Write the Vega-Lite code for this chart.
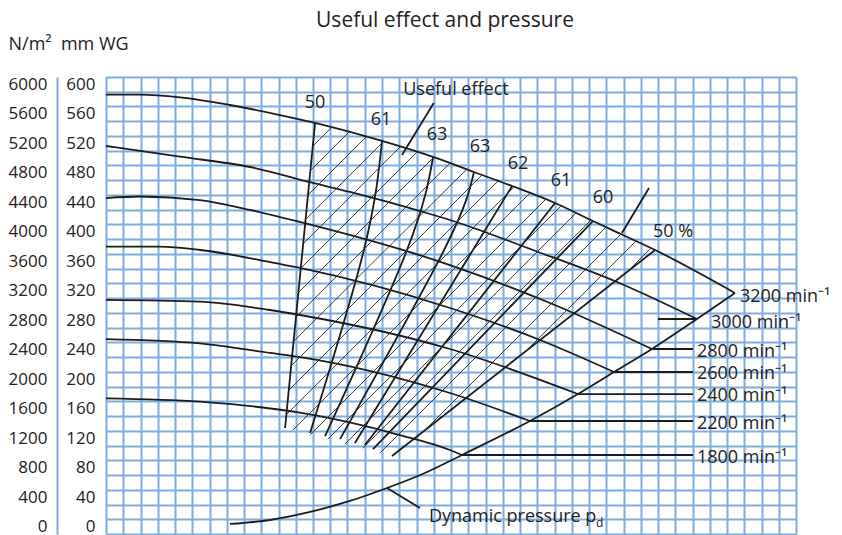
{
  "$schema": "https://vega.github.io/schema/vega-lite/v6.json",
  "width": 690,
  "height": 457,
  "autosize": "none",
  "padding": {"left": 106, "top": 77, "right": 46, "bottom": 1},
  "title": {"text": "Useful effect and pressure", "frame": "group", "anchor": "middle", "dx": -6, "offset": 4, "fontSize": 21, "fontWeight": "normal", "color": "#222222", "font": "Open Sans"},
  "config": {"view": {"stroke": null}, "font": "Open Sans"},
  "datasets": {
    "curves": [
      {"s": "3200", "x": 0, "y": 588.2}, {"s": "3200", "x": 1.97, "y": 588.2}, {"s": "3200", "x": 4.29, "y": 584.5}, {"s": "3200", "x": 7.19, "y": 574.0}, {"s": "3200", "x": 10.09, "y": 560.4}, {"s": "3200", "x": 12.12, "y": 549.6}, {"s": "3200", "x": 16.0, "y": 525.2}, {"s": "3200", "x": 18.96, "y": 503.5}, {"s": "3200", "x": 21.33, "y": 483.1}, {"s": "3200", "x": 23.54, "y": 464.1}, {"s": "3200", "x": 26.03, "y": 441.1}, {"s": "3200", "x": 28.23, "y": 416.6}, {"s": "3200", "x": 29.97, "y": 397.6}, {"s": "3200", "x": 31.83, "y": 377.3}, {"s": "3200", "x": 36.46, "y": 319.0},
      {"s": "3000", "x": 0, "y": 518.4}, {"s": "3000", "x": 4.29, "y": 503.9}, {"s": "3000", "x": 8.35, "y": 489.9}, {"s": "3000", "x": 12.0, "y": 468.2}, {"s": "3000", "x": 14.14, "y": 456.0}, {"s": "3000", "x": 18.38, "y": 428.9}, {"s": "3000", "x": 19.94, "y": 418.0}, {"s": "3000", "x": 24.75, "y": 377.3}, {"s": "3000", "x": 29.62, "y": 333.9}, {"s": "3000", "x": 34.26, "y": 283.7},
      {"s": "2800", "x": 0, "y": 447.8}, {"s": "2800", "x": 1.97, "y": 449.9}, {"s": "2800", "x": 5.45, "y": 445.1}, {"s": "2800", "x": 8.35, "y": 431.6}, {"s": "2800", "x": 11.23, "y": 415.3}, {"s": "2800", "x": 19.94, "y": 356.9}, {"s": "2800", "x": 25.74, "y": 305.4}, {"s": "2800", "x": 31.65, "y": 243.0},
      {"s": "2600", "x": 0, "y": 381.8}, {"s": "2600", "x": 3.13, "y": 381.8}, {"s": "2600", "x": 5.45, "y": 377.3}, {"s": "2600", "x": 9.51, "y": 361.0}, {"s": "2600", "x": 11.25, "y": 352.9}, {"s": "2600", "x": 19.94, "y": 298.6}, {"s": "2600", "x": 25.16, "y": 255.2}, {"s": "2600", "x": 29.45, "y": 211.8},
      {"s": "2400", "x": 0, "y": 309.5}, {"s": "2400", "x": 5.45, "y": 307.2}, {"s": "2400", "x": 9.51, "y": 295.9}, {"s": "2400", "x": 11.25, "y": 289.1}, {"s": "2400", "x": 19.94, "y": 243.0}, {"s": "2400", "x": 27.36, "y": 181.9},
      {"s": "2200", "x": 0, "y": 256.5}, {"s": "2200", "x": 5.45, "y": 250.7}, {"s": "2200", "x": 9.51, "y": 237.6}, {"s": "2200", "x": 11.25, "y": 232.1}, {"s": "2200", "x": 19.94, "y": 183.3}, {"s": "2200", "x": 24.58, "y": 145.3},
      {"s": "1800", "x": 0, "y": 176.1}, {"s": "1800", "x": 5.45, "y": 171.5}, {"s": "1800", "x": 11.25, "y": 156.6}, {"s": "1800", "x": 17.04, "y": 126.3}, {"s": "1800", "x": 19.94, "y": 106.0}, {"s": "1800", "x": 20.64, "y": 99.2},
      {"s": "pd", "x": 7.19, "y": 5.6}, {"s": "pd", "x": 9.51, "y": 11.0}, {"s": "pd", "x": 11.83, "y": 21.9}, {"s": "pd", "x": 14.14, "y": 36.8}, {"s": "pd", "x": 16.29, "y": 54.4}, {"s": "pd", "x": 18.49, "y": 74.8}, {"s": "pd", "x": 20.64, "y": 99.2}, {"s": "pd", "x": 24.58, "y": 145.3}, {"s": "pd", "x": 27.36, "y": 181.9}, {"s": "pd", "x": 29.45, "y": 211.8}, {"s": "pd", "x": 31.65, "y": 243.0}, {"s": "pd", "x": 34.26, "y": 283.7}, {"s": "pd", "x": 36.46, "y": 319.0}
    ],
    "eff": [
      {"e": "50", "x": 12.12, "y": 549.6}, {"e": "50", "x": 10.38, "y": 135.8},
      {"e": "61", "x": 16.0, "y": 525.2}, {"e": "61", "x": 14.95, "y": 377.3}, {"e": "61", "x": 11.83, "y": 129.0},
      {"e": "63", "x": 18.96, "y": 503.5}, {"e": "63", "x": 17.45, "y": 377.3}, {"e": "63", "x": 12.7, "y": 124.9},
      {"e": "63b", "x": 21.33, "y": 483.1}, {"e": "63b", "x": 19.6, "y": 377.3}, {"e": "63b", "x": 13.57, "y": 120.9},
      {"e": "62", "x": 23.54, "y": 464.1}, {"e": "62", "x": 14.43, "y": 115.4},
      {"e": "61b", "x": 26.03, "y": 441.1}, {"e": "61b", "x": 15.01, "y": 112.7},
      {"e": "60", "x": 28.23, "y": 416.6}, {"e": "60", "x": 15.48, "y": 107.3},
      {"e": "50p", "x": 31.83, "y": 377.3}, {"e": "50p", "x": 16.58, "y": 97.8}
    ],
    "hatch": [
      {"x": 13.075, "y": 543.56, "x2": 11.983, "y2": 517.98},
      {"x": 14.081, "y": 537.24, "x2": 11.843, "y2": 484.88},
      {"x": 15.084, "y": 530.87, "x2": 11.704, "y2": 451.77},
      {"x": 16.087, "y": 524.49, "x2": 11.565, "y2": 418.67},
      {"x": 17.061, "y": 517.44, "x2": 11.426, "y2": 385.57},
      {"x": 18.029, "y": 510.25, "x2": 11.287, "y2": 352.46},
      {"x": 18.997, "y": 503.06, "x2": 11.148, "y2": 319.36},
      {"x": 19.93, "y": 495.05, "x2": 11.009, "y2": 286.26},
      {"x": 20.922, "y": 487.05, "x2": 10.87, "y2": 253.16},
      {"x": 21.797, "y": 479.04, "x2": 10.73, "y2": 220.05},
      {"x": 22.73, "y": 471.04, "x2": 10.591, "y2": 186.95},
      {"x": 23.664, "y": 462.97, "x2": 10.452, "y2": 153.85},
      {"x": 24.574, "y": 454.49, "x2": 10.835, "y2": 132.95},
      {"x": 25.49, "y": 446.08, "x2": 11.849, "y2": 126.85},
      {"x": 26.383, "y": 437.12, "x2": 12.858, "y2": 120.61},
      {"x": 27.246, "y": 427.49, "x2": 13.867, "y2": 114.37},
      {"x": 28.116, "y": 417.99, "x2": 14.881, "y2": 108.27},
      {"x": 28.986, "y": 408.5, "x2": 15.89, "y2": 102.03},
      {"x": 29.855, "y": 399.0, "x2": 18.452, "y2": 132.14},
      {"x": 30.719, "y": 389.37, "x2": 24.336, "y2": 240.0},
      {"x": 31.588, "y": 379.87, "x2": 30.22, "y2": 347.85}
    ],
    "leaders": [
      {"x": 32.0, "y": 283.7, "x2": 34.26, "y2": 283.7},
      {"x": 31.65, "y": 243.0, "x2": 34.03, "y2": 243.0},
      {"x": 29.45, "y": 211.8, "x2": 34.03, "y2": 211.8},
      {"x": 27.36, "y": 181.9, "x2": 34.03, "y2": 181.9},
      {"x": 24.58, "y": 145.3, "x2": 34.03, "y2": 145.3},
      {"x": 20.64, "y": 99.2, "x2": 34.03, "y2": 99.2},
      {"x": 19.0, "y": 576.72, "x2": 17.16, "y2": 506.18},
      {"x": 31.48, "y": 461.41, "x2": 29.91, "y2": 400.36},
      {"x": 16.29, "y": 54.4, "x2": 18.2, "y2": 27.27}
    ],
    "rpm": [
      {"x": 36.75, "y": 313.5, "t": "3200 min⁻¹"},
      {"x": 35.07, "y": 278.2, "t": "3000 min⁻¹"},
      {"x": 34.26, "y": 238.9, "t": "2800 min⁻¹"},
      {"x": 34.26, "y": 209.1, "t": "2600 min⁻¹"},
      {"x": 34.26, "y": 179.2, "t": "2400 min⁻¹"},
      {"x": 34.26, "y": 141.2, "t": "2200 min⁻¹"},
      {"x": 34.26, "y": 95.1, "t": "1800 min⁻¹"},
      {"x": 18.72, "y": 15.06, "t": "Dynamic pressure p"}
    ],
    "effl": [
      {"x": 12.12, "y": 576.7, "t": "50"},
      {"x": 15.94, "y": 553.7, "t": "61"},
      {"x": 19.19, "y": 533.3, "t": "63"},
      {"x": 21.68, "y": 517.0, "t": "63"},
      {"x": 23.88, "y": 494.0, "t": "62"},
      {"x": 26.38, "y": 470.9, "t": "61"},
      {"x": 28.81, "y": 447.9, "t": "60"},
      {"x": 32.87, "y": 401.7, "t": "50 %"},
      {"x": 20.29, "y": 594.4, "t": "Useful effect"}
    ],
    "sub": [
      {"x": 28.41, "y": 6.5, "t": "d"}
    ]
  },
  "resolve": {"axis": {"y": "independent"}},
  "layer": [
    {
      "data": {"name": "curves"},
      "mark": {"type": "line", "color": "#1c1c1c", "strokeWidth": 1.8, "interpolate": "monotone"},
      "encoding": {
        "x": {"field": "x", "type": "quantitative", "scale": {"domain": [0, 40], "nice": false, "zero": false},
              "axis": {"orient": "bottom", "tickCount": 200, "values": [0,1,2,3,4,5,6,7,8,9,10,11,12,13,14,15,16,17,18,19,20,21,22,23,24,25,26,27,28,29,30,31,32,33,34,35,36,37,38,39,40], "grid": true, "gridColor": "#7eacdf", "gridWidth": 2, "gridOpacity": 1, "labels": false, "ticks": false, "domain": false, "title": null}},
        "y": {"field": "y", "type": "quantitative", "scale": {"domain": [-8, 612], "nice": false, "zero": false},
              "axis": {"orient": "left", "tickCount": 200, "values": [-8,12,32,52,72,92,112,132,152,172,192,212,232,252,272,292,312,332,352,372,392,412,432,452,472,492,512,532,552,572,592,612], "grid": true, "gridColor": "#7eacdf", "gridWidth": 2, "gridOpacity": 1, "labels": false, "ticks": false, "domain": false, "title": null}},
        "detail": {"field": "s", "type": "nominal"}
      }
    },
    {
      "data": {"name": "eff"},
      "mark": {"type": "line", "color": "#1c1c1c", "strokeWidth": 1.8, "interpolate": "natural"},
      "encoding": {
        "x": {"field": "x", "type": "quantitative"},
        "y": {"field": "y", "type": "quantitative",
              "axis": {"orient": "left", "tickCount": 200, "values": [0,40,80,120,160,200,240,280,320,360,400,440,480,520,560,600], "grid": false, "ticks": false, "tickSize": 0, "domain": false, "labelPadding": 11, "labelOffset": -1.5, "labelFontSize": 17, "labelColor": "#222222", "labelFont": "Open Sans",
                       "title": "N/m²\u00a0\u00a0mm WG", "titleAngle": 0, "titleX": -98, "titleY": -33, "titleAlign": "left", "titleBaseline": "middle", "titleFontSize": 18, "titleFontWeight": "normal", "titleColor": "#222222", "titleFont": "Open Sans"}},
        "detail": {"field": "e", "type": "nominal"}
      }
    },
    {
      "data": {"name": "hatch"},
      "mark": {"type": "rule", "color": "#2a2a2a", "strokeWidth": 0.9},
      "encoding": {
        "x": {"field": "x", "type": "quantitative"},
        "y": {"field": "y", "type": "quantitative",
              "axis": {"orient": "left", "offset": 49, "tickCount": 200, "values": [0,40,80,120,160,200,240,280,320,360,400,440,480,520,560,600], "labelExpr": "datum.value * 10", "grid": false, "ticks": false, "tickSize": 0, "domain": true, "domainColor": "#7eacdf", "domainWidth": 2, "labelPadding": 10, "labelOffset": -1.5, "labelFontSize": 17, "labelColor": "#222222", "labelFont": "Open Sans", "title": null}},
        "x2": {"field": "x2"},
        "y2": {"field": "y2"}
      }
    },
    {
      "data": {"name": "leaders"},
      "mark": {"type": "rule", "color": "#1c1c1c", "strokeWidth": 1.8},
      "encoding": {
        "x": {"field": "x", "type": "quantitative"},
        "y": {"field": "y", "type": "quantitative", "axis": null},
        "x2": {"field": "x2"},
        "y2": {"field": "y2"}
      }
    },
    {
      "data": {"name": "rpm"},
      "mark": {"type": "text", "align": "left", "baseline": "middle", "fontSize": 18, "color": "#222222"},
      "encoding": {
        "x": {"field": "x", "type": "quantitative"},
        "y": {"field": "y", "type": "quantitative", "axis": null},
        "text": {"field": "t"}
      }
    },
    {
      "data": {"name": "effl"},
      "mark": {"type": "text", "align": "center", "baseline": "middle", "fontSize": 18, "color": "#222222"},
      "encoding": {
        "x": {"field": "x", "type": "quantitative"},
        "y": {"field": "y", "type": "quantitative", "axis": null},
        "text": {"field": "t"}
      }
    },
    {
      "data": {"name": "sub"},
      "mark": {"type": "text", "align": "left", "baseline": "middle", "fontSize": 12, "color": "#222222"},
      "encoding": {
        "x": {"field": "x", "type": "quantitative"},
        "y": {"field": "y", "type": "quantitative", "axis": null},
        "text": {"field": "t"}
      }
    }
  ]
}
